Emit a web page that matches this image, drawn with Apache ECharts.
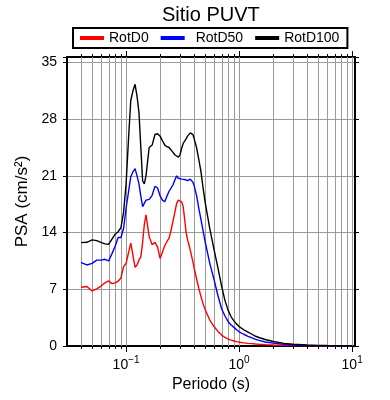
<!DOCTYPE html>
<html><head><meta charset="utf-8">
<script src="https://cdn.jsdelivr.net/npm/echarts@6/dist/echarts.min.js"></script>
<style>html,body{margin:0;padding:0;background:#fff}#c{width:390px;height:400px}</style>
</head><body><div id="c"></div>
<script>
const periods = [0.04, 0.045, 0.05, 0.055, 0.06, 0.065, 0.07, 0.075, 0.08, 0.085, 0.09, 0.095,
  0.1, 0.105, 0.11, 0.115, 0.12, 0.125, 0.13, 0.135, 0.14, 0.145, 0.15,
  0.16, 0.17, 0.18, 0.19, 0.2, 0.21, 0.22, 0.23, 0.24, 0.25, 0.26, 0.27, 0.28, 0.29, 0.3,
  0.31, 0.32, 0.33, 0.34, 0.35, 0.36, 0.37, 0.38, 0.39, 0.4,
  0.42, 0.44, 0.46, 0.48, 0.5,
  0.55, 0.6, 0.65, 0.7, 0.75, 0.8, 0.85, 0.9, 0.95, 1.0,
  1.1, 1.2, 1.3, 1.4, 1.5,
  1.7, 2.0, 2.5, 3.0, 4.0, 5.0, 6.0, 7.5, 10.0];
const rotD0 = [7.25, 7.35, 6.8, 7.05, 7.4, 7.8, 8.05, 7.7, 7.8, 8.0, 8.4, 9.8,
  10.2, 11.5, 12.7, 11.2, 9.7, 10.0, 10.6, 11.0, 12.8, 15.0, 16.2,
  13.5, 12.5, 12.8, 12.2, 10.8, 11.6, 12.4, 12.9, 13.3, 14.3, 15.4, 16.5, 17.6, 18.0, 18.2,
  17.8, 17.2, 15.6, 14.0, 13.1, 12.5, 11.8, 11.1, 10.4, 9.6,
  8.3, 7.1, 6.1, 5.2, 4.5,
  3.2, 2.4, 1.8, 1.35, 1.05, 0.85, 0.72, 0.62, 0.54, 0.47,
  0.39, 0.33, 0.29, 0.25, 0.22,
  0.17, 0.12, 0.09, 0.07, 0.05, 0.04, 0.03, 0.02, 0.015];
const rotD50 = [10.3, 10.0, 10.2, 10.6, 10.6, 10.7, 10.5, 11.4, 12.3, 13.4, 13.4, 14.5,
  17.0, 19.0, 20.9, 21.5, 21.9, 21.0, 20.0, 18.5, 17.2, 17.3, 18.0,
  18.1, 18.6, 19.7, 19.5, 18.5, 18.0, 17.8, 18.5, 19.1, 19.5, 19.9, 20.5, 21.0, 20.7, 20.5,
  20.6, 20.7, 20.55, 20.4, 20.4, 20.5, 20.6, 20.6, 20.2, 19.8,
  18.6, 17.0, 15.6, 14.2, 12.9,
  10.2, 8.2, 6.2, 4.6, 3.7, 3.0, 2.6, 2.3, 2.0, 1.75,
  1.45, 1.2, 1.0, 0.82, 0.7,
  0.5, 0.35, 0.2, 0.13, 0.07, 0.05, 0.04, 0.03, 0.02];
const rotD100 = [12.76, 12.8, 13.1, 13.0, 12.8, 12.6, 12.55, 13.2, 13.8, 14.1, 14.6, 16.5,
  20.0, 25.5, 30.3, 31.5, 32.3, 30.8, 28.8, 24.5, 20.4, 20.0, 21.0,
  24.5, 24.8, 26.1, 26.2, 25.9, 25.3, 24.8, 24.6, 24.5, 24.2, 23.9, 23.6, 23.4, 23.3, 23.6,
  24.4, 25.0, 25.3, 25.6, 25.9, 26.1, 26.3, 26.3, 26.1, 25.6,
  24.5, 23.0, 21.5, 19.5, 17.8,
  14.5, 11.9, 9.6, 7.4, 5.6, 4.4, 3.6, 3.1, 2.7, 2.4,
  2.0, 1.7, 1.45, 1.2, 1.05,
  0.8, 0.55, 0.33, 0.22, 0.12, 0.08, 0.06, 0.04, 0.03];
const seriesNames = ['RotD0', 'RotD50', 'RotD100'];
const seriesColors = ['#ff0000', '#0000ff', '#000000'];
const yTicks = [0, 7, 14, 21, 28, 35];
const xMajor = [0.1, 1, 10];
const xMinor = [0.04, 0.05, 0.06, 0.07, 0.08, 0.09,
  0.2, 0.3, 0.4, 0.5, 0.6, 0.7, 0.8, 0.9,
  2, 3, 4, 5, 6, 7, 8, 9];
const X_MIN = 0.03, X_MAX = 10.6, Y_MIN = 0, Y_MAX = 35.67;

const FONT = '"Liberation Sans", Arial, Helvetica, sans-serif';
const chart = echarts.init(document.getElementById('c'), null, {renderer: 'canvas'});

function zip(xs, ys) { return xs.map((x, i) => [x, ys[i]]); }

const gridData = xMinor.map(v => [v, 0]).concat(xMajor.map(v => [v, 1]));

function renderGrid(params, api) {
  const v = api.value(0);
  const major = api.value(1) === 1;
  const p0 = api.coord([v, Y_MIN]);
  const p1 = api.coord([v, Y_MAX]);
  const x = Math.round(p0[0]) + 0.5;
  const tl = major ? 6 : 3;
  return {type: 'group', children: [
    {type: 'line', shape: {x1: x, y1: p0[1], x2: x, y2: p1[1]}, style: {stroke: '#9a9a9a', lineWidth: 1}},
    {type: 'line', shape: {x1: x, y1: p0[1], x2: x, y2: p0[1] + tl}, style: {stroke: '#000', lineWidth: 1}},
    {type: 'line', shape: {x1: x, y1: p1[1], x2: x, y2: p1[1] - tl}, style: {stroke: '#000', lineWidth: 1}}
  ]};
}

function xLabel(v) {
  const e = Math.log10(v);
  const r = Math.round(e);
  if (Math.abs(e - r) > 1e-6) return '';
  return '{b|10}{s|' + (r < 0 ? '\u2212' + (-r) : String(r)) + '}';
}

const option = {
  animation: false,
  backgroundColor: '#fff',
  textStyle: {fontFamily: FONT},
  title: {
    text: 'Sitio PUVT', left: 162, top: 5, padding: 0,
    textStyle: {fontFamily: FONT, fontSize: 20, fontWeight: 'normal', color: '#000'}
  },
  legend: {
    data: [{name: 'RotD0'}, {name: 'RotD50', textStyle: {padding: [0, 0, 0, 6]}}, {name: 'RotD100'}],
    left: 73, top: 28, padding: [3, 8, 3, 7],
    itemGap: 12, itemWidth: 24, itemHeight: 4, icon: 'rect',
    borderColor: '#000', borderWidth: 2, borderRadius: 0,
    textStyle: {fontFamily: FONT, fontSize: 14, color: '#000'}
  },
  grid: {left: 67, right: 35, top: 57, bottom: 54, containLabel: false},
  xAxis: [{
    type: 'log', logBase: 10, min: X_MIN, max: X_MAX, position: 'bottom',
    name: 'Periodo (s)', nameLocation: 'middle', nameGap: 26,
    nameTextStyle: {fontFamily: FONT, fontSize: 16, color: '#000'},
    axisLine: {show: true, onZero: false, lineStyle: {color: '#000', width: 2}},
    axisTick: {show: false}, splitLine: {show: false}, minorTick: {show: false},
    axisLabel: {
      show: true, margin: 9, formatter: xLabel, color: '#000',
      rich: {
        b: {fontFamily: FONT, fontSize: 14, color: '#000', lineHeight: 17, verticalAlign: 'bottom'},
        s: {fontFamily: FONT, fontSize: 10, color: '#000', lineHeight: 17, verticalAlign: 'top'}
      }
    }
  }, {
    type: 'log', logBase: 10, min: X_MIN, max: X_MAX, position: 'top',
    axisLine: {show: true, onZero: false, lineStyle: {color: '#000', width: 2}},
    axisTick: {show: false}, splitLine: {show: false}, axisLabel: {show: false}
  }],
  yAxis: [{
    type: 'value', min: Y_MIN, max: Y_MAX, interval: 7, position: 'left',
    name: 'PSA (cm/s\u00b2)', nameLocation: 'middle', nameGap: 28,
    nameTextStyle: {fontFamily: FONT, fontSize: 17, color: '#000'},
    axisLine: {show: true, onZero: false, lineStyle: {color: '#000', width: 2}},
    axisTick: {show: true, length: 4, inside: false, lineStyle: {color: '#000', width: 1}},
    axisLabel: {margin: 10, fontFamily: FONT, fontSize: 14, color: '#000',
      formatter: v => (yTicks.indexOf(v) >= 0 ? String(v) : '')},
    splitLine: {show: true, lineStyle: {color: '#9a9a9a', width: 1}}
  }, {
    type: 'value', min: Y_MIN, max: Y_MAX, interval: 7, position: 'right',
    axisLine: {show: true, onZero: false, lineStyle: {color: '#000', width: 2}},
    axisTick: {show: true, length: 4, inside: false, lineStyle: {color: '#000', width: 1}},
    axisLabel: {show: false}, splitLine: {show: false}
  }],
  series: [{
    type: 'custom', xAxisIndex: 0, yAxisIndex: 0, z: 1, silent: true,
    renderItem: renderGrid, data: gridData, clip: false, legendHoverLink: false
  }].concat(seriesNames.map((n, i) => ({
    name: n, type: 'line', xAxisIndex: 0, yAxisIndex: 0, z: 3 + i,
    data: zip(periods, [rotD0, rotD50, rotD100][i]),
    showSymbol: false, symbol: 'none', smooth: false,
    lineStyle: {color: seriesColors[i], width: 1.4},
    itemStyle: {color: seriesColors[i]}
  })))
};
chart.setOption(option);
</script></body></html>
